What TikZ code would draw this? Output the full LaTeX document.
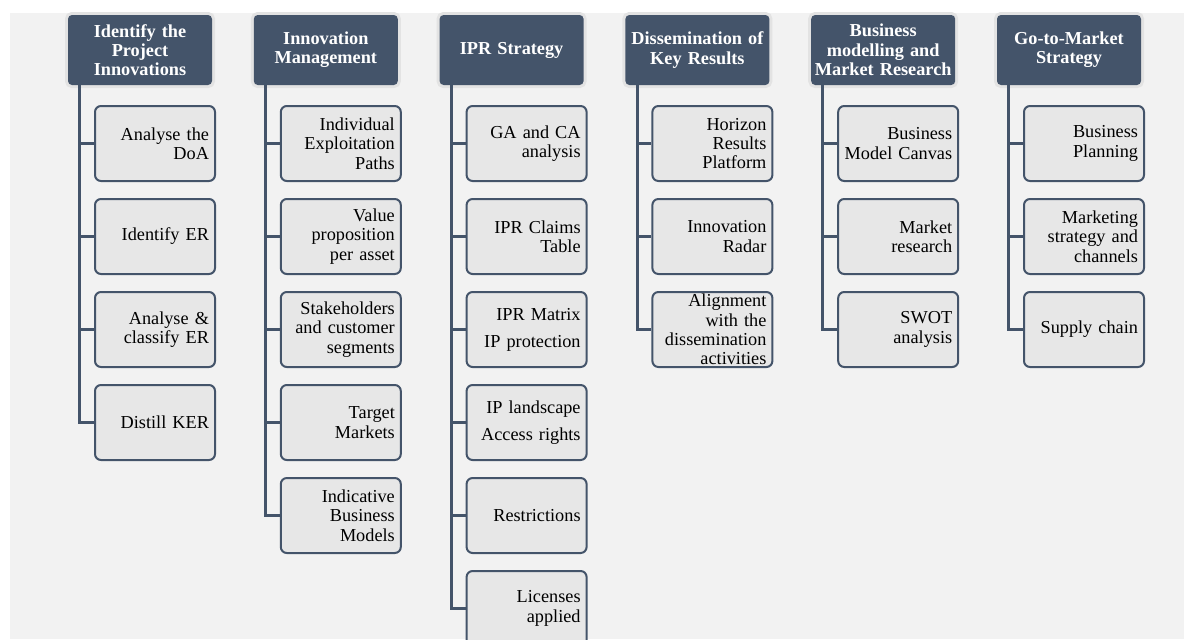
\documentclass[tikz,border=0pt]{standalone}
\usepackage{fontspec}
\setmainfont{Liberation Serif}
\definecolor{slate}{HTML}{44546A}
\definecolor{boxgray}{HTML}{E7E7E7}
\definecolor{backgray}{HTML}{F2F2F2}
\definecolor{halogray}{HTML}{E3E3E3}
\tikzset{
  phase/.style={rectangle, rounded corners=3pt, fill=slate, text=white,
    font=\fontsize{13.7}{14.5}\selectfont\bfseries, align=center,
    text width=104pt, inner xsep=2pt, minimum height=52.5pt,
    preaction={draw=halogray, line width=4.5pt}},
  task/.style={rectangle, rounded corners=4.5pt, draw=slate, line width=1.5pt,
    fill=boxgray, font=\fontsize{13.7}{14.5}\selectfont, align=right,
    text width=81pt, inner xsep=4.5pt, inner ysep=0.5pt, minimum height=56.25pt},
  trunk/.style={draw=slate, line width=2.2pt}
}
\begin{document}
\begin{tikzpicture}[x=0.75pt, y=-0.75pt]
  \useasboundingbox (0,0) rectangle (1184,639);
  \fill[backgray] (10,13) rectangle (1184,639);

  % phase headers
  \node[phase] (h1) at (140,50)   {Identify the\\Project\\Innovations};
  \node[phase] (h2) at (325.8,50) {Innovation\\Management};
  \node[phase] (h3) at (511.6,50) {IPR Strategy};
  \node[phase] (h4) at (697.4,50) {Dissemination of\\Key Results};
  \node[phase] (h5) at (883.2,50) {Business\\modelling and\\Market Research};
  \node[phase] (h6) at (1069,50)  {Go-to-Market\\Strategy};

  % tasks
  \node[task] (c11) at (155,143.5) {Analyse the\\DoA};
  \node[task] (c12) at (155,236.5) {Identify ER};
  \node[task] (c13) at (155,329.5) {Analyse \&\\classify ER};
  \node[task] (c14) at (155,422.5) {Distill KER};

  \node[task] (c21) at (340.8,143.5) {Individual\\Exploitation\\Paths};
  \node[task] (c22) at (340.8,236.5) {Value\\proposition\\per asset};
  \node[task] (c23) at (340.8,329.5) {Stakeholders\\and customer\\segments};
  \node[task] (c24) at (340.8,422.5) {Target\\Markets};
  \node[task] (c25) at (340.8,515.5) {Indicative\\Business\\Models};

  \node[task] (c31) at (526.6,143.5) {GA and CA\\analysis};
  \node[task] (c32) at (526.6,236.5) {IPR Claims\\Table};
  \node[task] (c33) at (526.6,329.5) {IPR Matrix\\[5.75pt]IP protection};
  \node[task] (c34) at (526.6,422.5) {IP landscape\\[5.75pt]Access rights};
  \node[task] (c35) at (526.6,515.5) {Restrictions};
  \node[task] (c36) at (526.6,608.5) {Licenses\\applied};

  \node[task] (c41) at (712.4,143.5) {Horizon\\Results\\Platform};
  \node[task] (c42) at (712.4,236.5) {Innovation\\Radar};
  \node[task, inner ysep=0pt] (c43) at (712.4,329.5) {Alignment\\with the\\dissemination\\activities};

  \node[task] (c51) at (898.2,143.5) {Business\\Model Canvas};
  \node[task] (c52) at (898.2,236.5) {Market\\research};
  \node[task] (c53) at (898.2,329.5) {SWOT\\analysis};

  \node[task] (c61) at (1084,143.5) {Business\\Planning};
  \node[task] (c62) at (1084,236.5) {Marketing\\strategy and\\channels};
  \node[task] (c63) at (1084,329.5) {Supply chain};

  % connectors
  \foreach \c/\n in {1/4, 2/5, 3/6, 4/3, 5/3, 6/3}
    \foreach \k in {1,...,\n}
      \draw[trunk] ([xshift=9pt]h\c.south west) |- (c\c\k.west);
\end{tikzpicture}
\end{document}
